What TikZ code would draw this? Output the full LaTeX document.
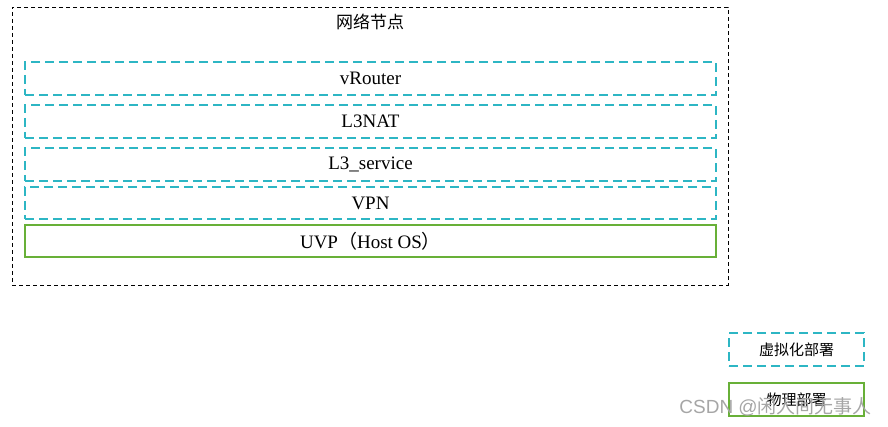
\documentclass[tikz,border=0pt]{standalone}
\usepackage{fontspec}
\setmainfont{Liberation Serif}
\newfontfamily\cjk{Noto Sans CJK SC}
\newfontfamily\wmfont{Liberation Sans}
\usepackage{xcolor}
\usepackage{tikz}
\usetikzlibrary{positioning}

\definecolor{virtteal}{RGB}{45,182,196}
\definecolor{physgreen}{RGB}{104,176,56}

\begin{document}
\begin{tikzpicture}[x=1pt, y=-1pt,
  layerbox/.style={draw=virtteal, line width=2pt, dash pattern=on 9pt off 5pt, minimum width=691pt, minimum height=33pt, inner sep=0pt, font=\fontsize{19}{21}\selectfont},
  hostbox/.style={draw=physgreen, line width=2pt, minimum width=691pt, minimum height=32pt, inner sep=0pt, font=\fontsize{19}{21}\selectfont},
  legendvirt/.style={draw=virtteal, line width=2pt, dash pattern=on 9pt off 5pt, minimum width=135pt, minimum height=33pt, inner sep=0pt, font=\cjk\fontsize{15}{17}\selectfont},
  legendphys/.style={draw=physgreen, line width=2pt, minimum width=135pt, minimum height=33pt, inner sep=0pt, font=\cjk\fontsize{15}{17}\selectfont}]
  \useasboundingbox (0,0) rectangle (888,427);

  % --- Network node frame ---
  \node[draw=black, line width=0.8pt, dash pattern=on 4pt off 3pt, minimum width=716pt, minimum height=278pt, inner sep=0pt] (frame) at (370,146) {};
  \node[font=\cjk\fontsize{17}{19}\selectfont] (title) at (370,22) {网络节点};

  % --- Layers ---
  \node[layerbox] (vrouter) at (370.5,78.5) {vRouter};
  \node[layerbox] (l3nat) at (370.5,121.5) {L3NAT};
  \node[layerbox] (l3svc) at (370.5,164.5) {L3\_service};
  \node[layerbox, minimum height=32pt] (vpn) at (370.5,203) {VPN};
  \node[hostbox] (uvp) at (370.5,241) {UVP{\cjk （}Host OS{\cjk ）}};

  % --- Legend ---
  \node[legendvirt] (legvirt) at (796.5,349.5) {虚拟化部署};
  \node[legendphys] (legphys) at (796.5,399.5) {物理部署};

  % watermark
  \node[font=\fontsize{19}{21}\selectfont, text=gray!70, anchor=east, inner sep=0pt] (mark) at (872,407) {\wmfont CSDN @\cjk 闲人间无事人};
\end{tikzpicture}
\end{document}
